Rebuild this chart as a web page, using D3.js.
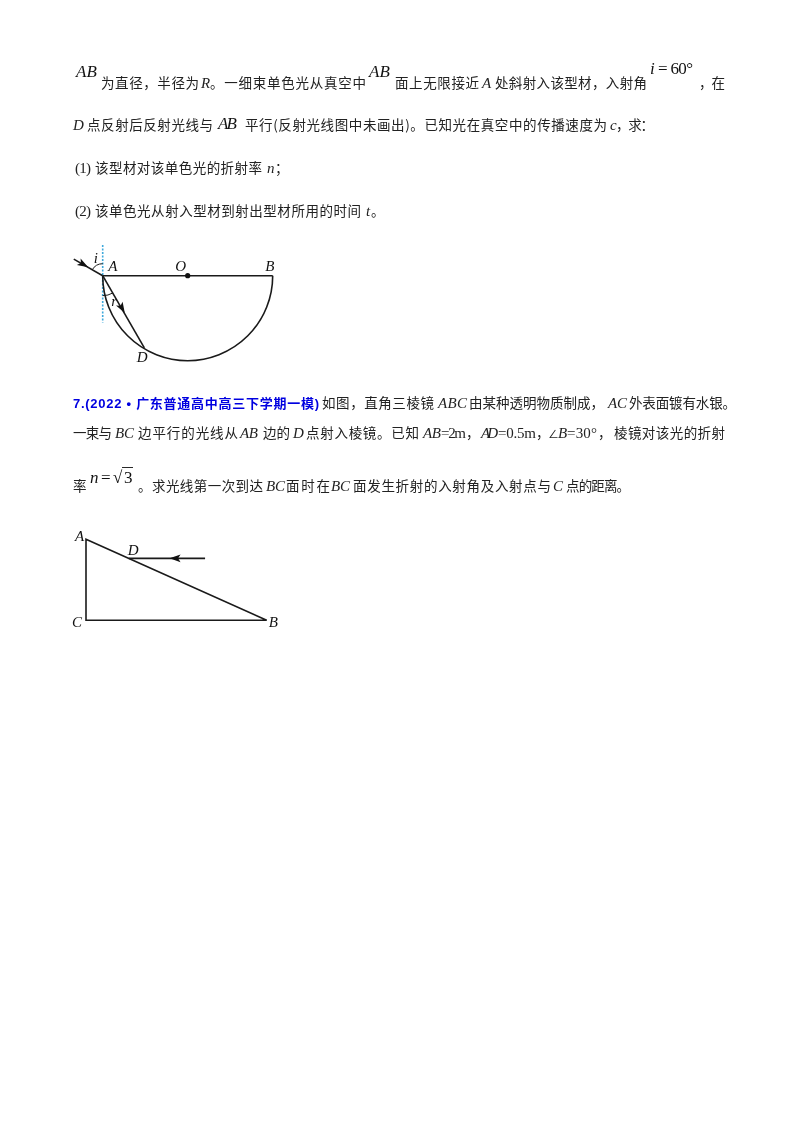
<!DOCTYPE html>
<html lang="zh">
<head>
  <meta charset="UTF-8">
  <title>Physics problems</title>
  <script src="https://cdn.jsdelivr.net/npm/d3@7"></script>
  <style>
    body { margin: 0; background: #fff; }
    svg { display: block; filter: blur(0.3px); }
    .cn { font-family: "Noto Sans CJK SC", sans-serif; font-size: 13.5px; fill: #222; }
    .it { font-family: "Liberation Serif", serif; font-style: italic; font-size: 15px; fill: #222; }
    .lat { font-family: "Liberation Serif", serif; font-size: 15px; fill: #222; }
    .ang { font-family: "Liberation Serif", serif; font-size: 13px; fill: #222; }
    .math { font-family: "Liberation Serif", serif; font-style: italic; font-size: 17px; fill: #111; }
    .mathr { font-family: "Liberation Serif", serif; font-size: 17px; fill: #111; }
    .head { font-family: "Liberation Sans", "Noto Sans CJK SC", sans-serif; font-weight: 700; font-size: 13px; fill: #0000e0; }
    .lab { font-family: "Liberation Serif", serif; font-style: italic; font-size: 15px; fill: #111; }
  </style>
</head>
<body>
  <svg id="page" width="800" height="1132"></svg>
  <script>
    // text runs: text, class
    const line1 = [['AB','math'],['为直径，半径为','cn'],['R','it'],['。一细束单色光从真空中','cn'],['AB','math'],['面上无限接近','cn'],['A','it'],['处斜射入该型材，入射角','cn'],['i','math'],['= 60°','mathr'],['，在','cn']];
    const line2 = [['D','it'],['点反射后反射光线与','cn'],['AB','math'],['平行(反射光线图中未画出)。已知光在真空中的传播速度为','cn'],['c','it'],['，求：','cn']];
    const line3 = [['(1)','lat'],['该型材对该单色光的折射率','cn'],['n','it'],['；','cn']];
    const line4 = [['(2)','lat'],['该单色光从射入型材到射出型材所用的时间','cn'],['t','it'],['。','cn']];
    const line5 = [['7.(2022 • 广东普通高中高三下学期一模)','head'],['如图，直角三棱镜','cn'],['ABC','it'],['由某种透明物质制成，','cn'],['AC','it'],['外表面镀有水银。','cn']];
    const line6 = [['一束与','cn'],['BC','it'],['边平行的光线从','cn'],['AB','it'],['边的','cn'],['D','it'],['点射入棱镜。已知','cn'],['AB','it'],['=2m','lat'],['，','cn'],['AD','it'],['=0.5m','lat'],['，','cn'],['∠','ang'],['B','it'],['=30°','lat'],['，','cn'],['棱镜对该光的折射','cn']];
    const line7 = [['率','cn'],['n','math'],['=','mathr'],['√','mathr'],['3','mathr'],['。求光线第一次到达','cn'],['BC','it'],['面时在','cn'],['BC','it'],['面发生折射的入射角及入射点与','cn'],['C','it'],['点的距离。','cn']];
    const textLines = [line1, line2, line3, line4, line5, line6, line7];

    // layout of the runs: [left, right, baseline]
    const lineLayout = [
      [[76,97,77],[101,199,88],[201,209,88],[210,366,88],[369,390,77],[395,479,88],[482,491,88],[495,647,88],[650,655,74],[658,693,74],[699,725,88]],
      [[73,84,130],[87,213,130],[218,237,129],[245,607,130],[610,616,130],[616,654,130]],
      [[75,91,173],[95,262,173],[267,274,173],[275,288,173]],
      [[75,91,216],[95,361,216],[366,370,216],[371,384,216]],
      [[73,319,408],[322,434,408],[438,467,408],[469,604,408],[608,627,408],[629,736,408]],
      [[73,112,438],[115,134,438],[138,238,438],[240,258,438],[263,290,438],[293,304,438],[306,419,438],[423,441,438],[441,466,438],[466,480,438],[481,498,438],[498,536,438],[536,548,438],[548,557,438],[558,567,438],[567,597,438],[598,612,438],[614,725,438]],
      [[73,87,491],[90,97,483],[101,110,483],[113,123,483],[124,132,483],[138,263,491],[266,285,491],[286,330,491],[331,350,491],[353,551,491],[553,563,491],[566,630,491]]
    ];
    const rootBar = [[122, 467.5], [133, 467.5]];

    // semicircle figure, in units of the radius R
    const semiA = [-1, 0], semiB = [1, 0], semiO = [0, 0], semiD = [-0.51, -0.85];
    const incidentRay = [[-1.34, 0.195], [-1, 0]];
    const incidentArrow = [-1.17, 0.1];
    const refractedArrow = [-0.74, -0.44];
    const normalLine = [[-1, 0.36], [-1, -0.55]];
    const semiLabels = [['i',-1.13,0.15,2,0],['A',-0.9,0,-3,-5],['O',-0.1,0,-4,-5],['B',0.97,0,-5,-5],['D',-0.53,-0.85,-6,14],['r',-0.9,-0.36,0,0]];

    // prism figure, C at the origin, AC = 1
    const prismA = [0, 1], prismB = [1.73, 0], prismC = [0, 0], prismD = [0.41, 0.765];
    const prismRayEnd = [1.14, 0.765];
    const prismArrow = [0.8, 0.765];
    const prismLabels = [['A',0,1,-11,2],['C',0,0,-14,7],['D',0.41,0.765,-1,-3],['B',1.73,0,2,7]];

    const svg = d3.select('#page');

    textLines.forEach((runs, i) => {
      svg.append('g').selectAll('text').data(runs).join('text')
        .attr('class', d => d[1])
        .attr('x', (d, j) => lineLayout[i][j][0])
        .attr('y', (d, j) => lineLayout[i][j][2])
        .attr('textLength', (d, j) => lineLayout[i][j][1] - lineLayout[i][j][0])
        .attr('lengthAdjust', 'spacing')
        .text(d => d[0]);
    });

    svg.append('path')
      .attr('d', d3.line()(rootBar))
      .attr('stroke', '#111').attr('stroke-width', 0.9).attr('fill', 'none');

    const sx = d3.scaleLinear().domain([-1, 1]).range([102.7, 272.7]);
    const sy = d3.scaleLinear().domain([-1, 1]).range([360.7, 190.7]);
    const line = d3.line().x(d => sx(d[0])).y(d => sy(d[1]));

    // arrow head, tip at (x, y) in pixels
    function head(g, x, y, angle, fill) {
      g.append('path')
        .attr('d', 'M0,0L-11,-3.8L-8.5,0L-11,3.8Z')
        .attr('transform', `translate(${x},${y}) rotate(${angle})`)
        .attr('fill', fill);
    }
    function angleOf(a, b, fx, fy) {
      return Math.atan2(fy(b[1]) - fy(a[1]), fx(b[0]) - fx(a[0])) * 180 / Math.PI;
    }

    const semi = svg.append('g').attr('fill', 'none').attr('stroke', '#1a1a1a').attr('stroke-width', 1.6);

    semi.append('path').attr('d', line(normalLine))
      .attr('stroke', '#3fa9dc').attr('stroke-dasharray', '2 1.5');
    semi.append('path').attr('d', line([semiA, semiB]));
    semi.append('path').attr('d', line([semiA, semiD]));
    semi.append('path').attr('d', line(incidentRay));

    const rim = d3.path();
    rim.arc(sx(semiO[0]), sy(semiO[1]), sx(1) - sx(0), 0, Math.PI);
    semi.append('path').attr('d', rim.toString());

    // angle marks at A
    const markI = d3.path();
    markI.arc(sx(-1), sy(0), 12, -Math.PI / 2, -Math.PI * 0.84, true);
    semi.append('path').attr('d', markI.toString()).attr('stroke-width', 1);
    const markR = d3.path();
    markR.arc(sx(-1), sy(0), 20, Math.PI / 2, Math.PI * 0.33, true);
    semi.append('path').attr('d', markR.toString()).attr('stroke-width', 1);

    semi.append('circle').attr('cx', sx(semiO[0])).attr('cy', sy(semiO[1])).attr('r', 2.6)
      .attr('fill', '#111').attr('stroke', 'none');

    const semiHeads = svg.append('g');
    head(semiHeads, sx(incidentArrow[0]), sy(incidentArrow[1]), angleOf(incidentRay[0], incidentRay[1], sx, sy), '#111');
    head(semiHeads, sx(refractedArrow[0]), sy(refractedArrow[1]), angleOf(semiA, semiD, sx, sy), '#111');

    svg.append('g').selectAll('text').data(semiLabels).join('text')
      .attr('class', 'lab')
      .attr('x', d => sx(d[1]) + d[3])
      .attr('y', d => sy(d[2]) + d[4])
      .text(d => d[0]);

    const px = d3.scaleLinear().domain([0, 1.73]).range([86, 266.7]);
    const py = d3.scaleLinear().domain([0, 1]).range([620.3, 539.3]);
    const pline = d3.line().x(d => px(d[0])).y(d => py(d[1]));

    const prism = svg.append('g').attr('fill', 'none').attr('stroke', '#1a1a1a').attr('stroke-width', 1.6);
    prism.append('path').attr('d', pline([prismA, prismB, prismC]) + 'Z');
    prism.append('path').attr('d', pline([prismD, prismRayEnd]));
    head(svg.append('g'), px(prismArrow[0]), py(prismArrow[1]), 180, '#111');

    svg.append('g').selectAll('text').data(prismLabels).join('text')
      .attr('class', 'lab')
      .attr('x', d => px(d[1]) + d[3])
      .attr('y', d => py(d[2]) + d[4])
      .text(d => d[0]);
  </script>
</body>
</html>
